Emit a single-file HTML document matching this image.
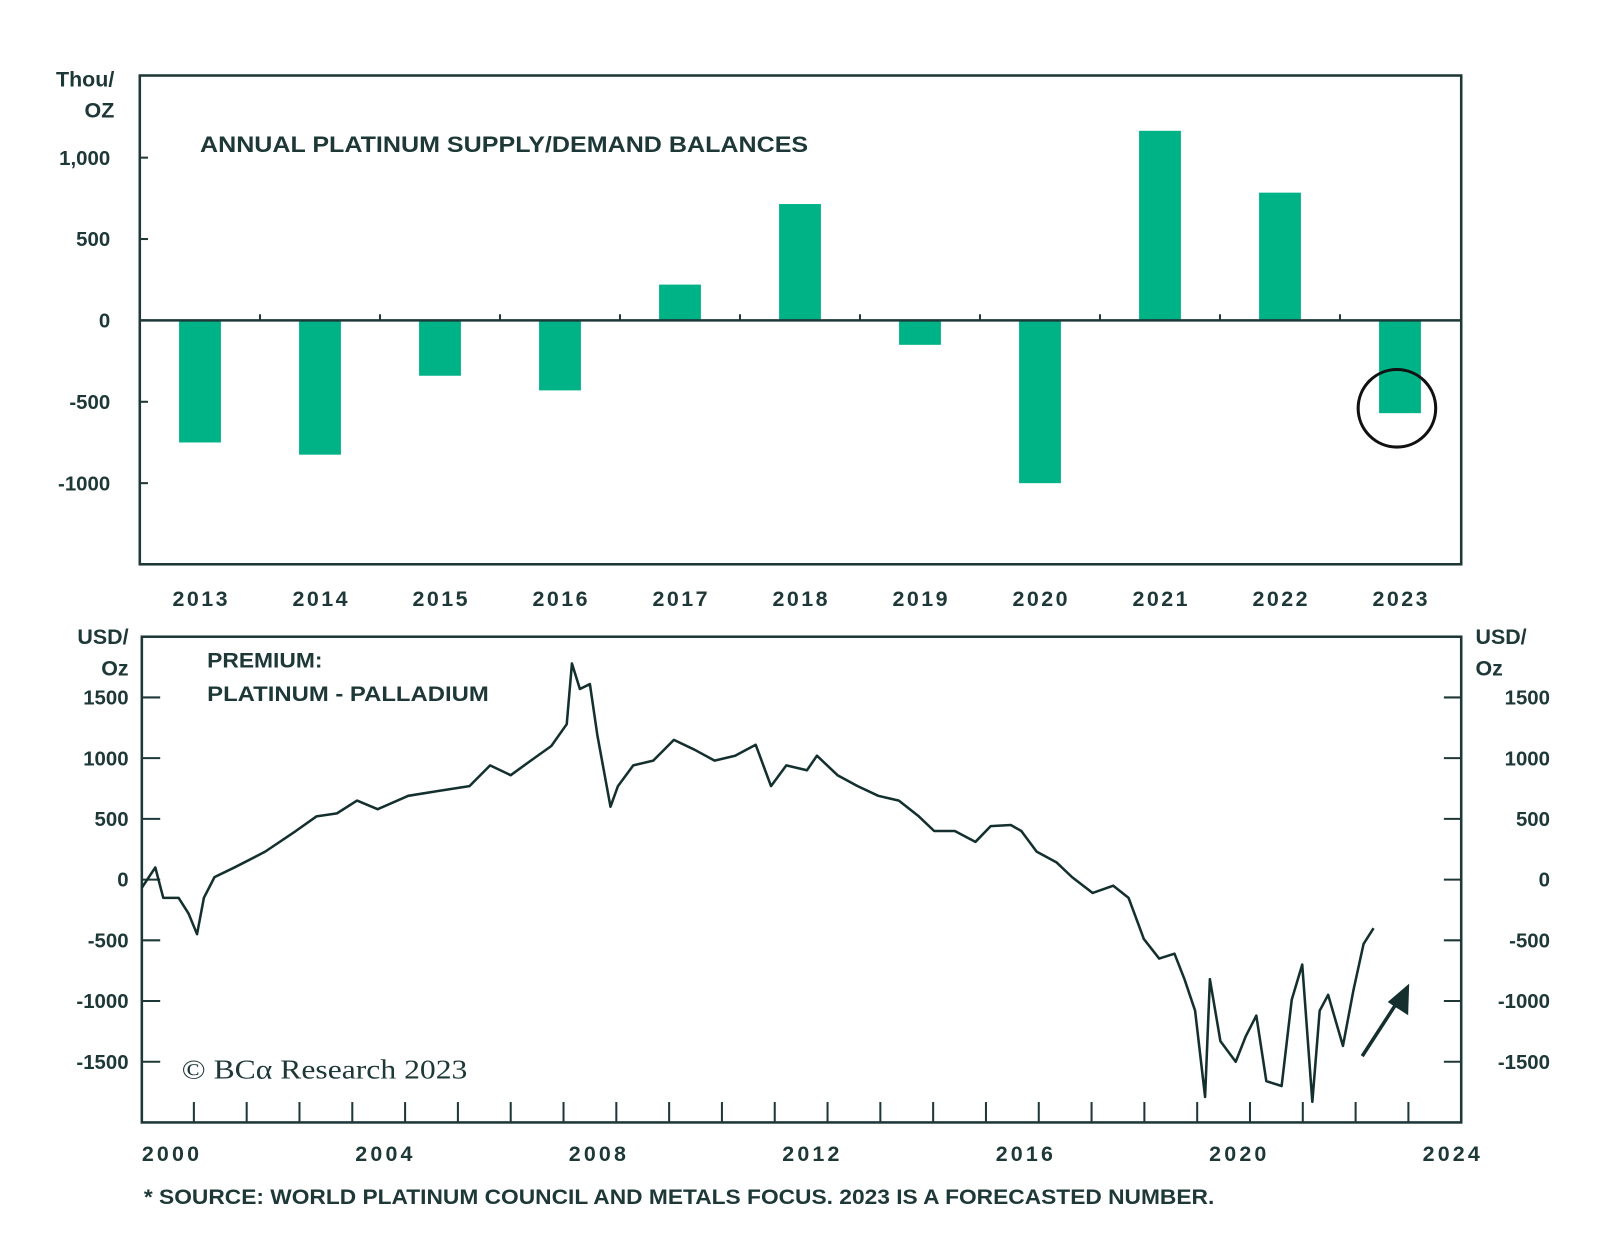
<!DOCTYPE html>
<html><head><meta charset="utf-8"><style>
html,body{margin:0;padding:0;background:#fff;}
svg{display:block;font-family:"Liberation Sans",sans-serif;}
</style></head><body>
<svg id="chart" width="1600" height="1258" viewBox="0 0 1600 1258" xmlns="http://www.w3.org/2000/svg">
<rect x="0" y="0" width="1600" height="1258" fill="#fff"/>
<g transform="scale(1.0204)">
<g id="topPanel"></g>
<g id="botPanel"></g>
</g>
</svg>
<script>
const barYears=["2013","2014","2015","2016","2017","2018","2019","2020","2021","2022","2023"];
const barValues=[-750,-825,-340,-430,220,715,-150,-1000,1165,785,-570];
const topTicks=[1000,500,0,-500,-1000];
const topTickLabels=["1,000","500","0","-500","-1000"];
const lineYears=[1999.01,1999.27,1999.42,1999.71,1999.90,2000.06,2000.19,2000.39,2000.77,2001.35,2001.93,2002.32,2002.71,2003.09,2003.48,2004.06,2004.64,2005.22,2005.61,2006.00,2006.38,2006.77,2007.06,2007.16,2007.31,2007.50,2007.64,2007.78,2007.89,2008.03,2008.32,2008.70,2009.09,2009.48,2009.86,2010.25,2010.64,2010.93,2011.22,2011.61,2011.80,2012.19,2012.57,2012.96,2013.35,2013.73,2014.02,2014.41,2014.80,2015.09,2015.47,2015.67,2015.96,2016.34,2016.63,2017.02,2017.41,2017.70,2017.99,2018.28,2018.57,2018.76,2018.96,2019.15,2019.24,2019.44,2019.73,2019.92,2020.12,2020.31,2020.60,2020.79,2020.99,2021.18,2021.32,2021.48,2021.76,2021.96,2022.15,2022.34];
const lineValues=[-70,100,-150,-150,-280,-450,-150,20,100,230,400,520,545,650,580,690,730,770,940,860,980,1100,1280,1780,1570,1610,1190,860,600,770,940,980,1150,1070,980,1020,1110,770,940,900,1020,860,770,690,650,520,400,400,310,440,450,400,230,140,20,-110,-50,-150,-490,-650,-610,-820,-1080,-1790,-820,-1330,-1500,-1290,-1120,-1660,-1700,-990,-700,-1830,-1080,-950,-1370,-910,-530,-400];
const botTicks=[1500,1000,500,0,-500,-1000,-1500];
const xLabelYears=[2000,2004,2008,2012,2016,2020,2024];

const NS="http://www.w3.org/2000/svg";
const C="#1e3838";
function mk(parent,tag,attrs,text){const e=document.createElementNS(NS,tag);for(const k in attrs)e.setAttribute(k,attrs[k]);if(text!==undefined)e.textContent=text;parent.appendChild(e);return e;}
const topG=document.getElementById('topPanel'), botG=document.getElementById('botPanel');

const tL=137,tR=1432,tT=74,tB=553;
const yTop=v=>314-v*0.1595;
const xBar=i=>196+i*117.6;
let e;
e=mk(topG,'rect',{x:tL,y:tT,width:tR-tL,height:tB-tT,fill:'none',stroke:C,'stroke-width':2.5});


barValues.forEach((v,i)=>{
  const y0=yTop(0),y1=yTop(v);
  const b=mk(topG,'rect',{x:xBar(i)-20.5,y:Math.min(y0,y1),width:41,height:Math.abs(y1-y0),fill:'#00b386'});
  
  
  const t=mk(topG,'text',{x:xBar(i),y:594,'text-anchor':'middle','font-size':21,'font-weight':'bold',fill:C,textLength:54,lengthAdjust:'spacing'},barYears[i]);
  
  
  if(i<barValues.length-1){const tk=mk(topG,'line',{x1:xBar(i)+58.8,x2:xBar(i)+58.8,y1:yTop(0),y2:yTop(0)-6,stroke:C,'stroke-width':2});
  
  }
});
e=mk(topG,'line',{x1:tL,x2:tR,y1:yTop(0),y2:yTop(0),stroke:C,'stroke-width':2.5});


topTicks.forEach((v,i)=>{
  const tk=mk(topG,'line',{x1:tL,x2:tL+8,y1:yTop(v),y2:yTop(v),stroke:C,'stroke-width':2});
  
  
  const t=mk(topG,'text',{x:108,y:yTop(v)+7,'text-anchor':'end','font-size':20,'font-weight':'bold',fill:C},topTickLabels[i]);
  
  
});
e=mk(topG,'text',{x:112,y:85,'text-anchor':'end','font-size':21,'font-weight':'bold',fill:C},'Thou/');


e=mk(topG,'text',{x:112,y:115,'text-anchor':'end','font-size':21,'font-weight':'bold',fill:C},'OZ');


e=mk(topG,'text',{x:196,y:149,'font-size':22,'font-weight':'bold',fill:C,textLength:596,lengthAdjust:'spacingAndGlyphs'},'ANNUAL PLATINUM SUPPLY/DEMAND BALANCES');


e=mk(topG,'circle',{cx:xBar(10)-3,cy:yTop(-540),r:38,fill:'none',stroke:'#111','stroke-width':3});



const bL=139,bR=1432,bT=624,bB=1100;
const xB=yr=>190+(yr-2000)*51.75;
const yB=v=>862-v*0.119;
e=mk(botG,'rect',{x:bL,y:bT,width:bR-bL,height:bB-bT,fill:'none',stroke:C,'stroke-width':2.5});


botTicks.forEach(v=>{
  let tk=mk(botG,'line',{x1:bL,x2:bL+18,y1:yB(v),y2:yB(v),stroke:C,'stroke-width':2});
  
  
  tk=mk(botG,'line',{x1:bR-17,x2:bR,y1:yB(v),y2:yB(v),stroke:C,'stroke-width':2});
  
  
  let t=mk(botG,'text',{x:126,y:yB(v)+7,'text-anchor':'end','font-size':20,'font-weight':'bold',fill:C},String(v));
  
  
  t=mk(botG,'text',{x:1519,y:yB(v)+7,'text-anchor':'end','font-size':20,'font-weight':'bold',fill:C},String(v));
  
  
});
for(let yr=2000;yr<=2023;yr++){
  const tk=mk(botG,'line',{x1:xB(yr),x2:xB(yr),y1:bB,y2:bB-20,stroke:C,'stroke-width':2});
  
  
}
xLabelYears.forEach(yr=>{
  const t=mk(botG,'text',{x:167+(yr-2000)*52.3,y:1138,'text-anchor':'middle','font-size':21,'font-weight':'bold',fill:C,textLength:56,lengthAdjust:'spacing'},String(yr));
  
  
});
let d=lineYears.map((yr,i)=>(i?'L':'M')+xB(yr).toFixed(1)+' '+yB(lineValues[i]).toFixed(1)).join(' ');
e=mk(botG,'path',{d:d,fill:'none',stroke:'#14302e','stroke-width':2.5,'stroke-linejoin':'round'});


[['USD/',126,631,'end'],['Oz',126,662,'end'],['USD/',1446,631,'start'],['Oz',1446,662,'start']].forEach(a=>{
  const t=mk(botG,'text',{x:a[1],y:a[2],'text-anchor':a[3],'font-size':21,'font-weight':'bold',fill:C},a[0]);
  
  
});
e=mk(botG,'text',{x:203,y:654,'font-size':21,'font-weight':'bold',fill:C,textLength:113,lengthAdjust:'spacingAndGlyphs'},'PREMIUM:');


e=mk(botG,'text',{x:203,y:687,'font-size':21,'font-weight':'bold',fill:C,textLength:276,lengthAdjust:'spacingAndGlyphs'},'PLATINUM - PALLADIUM');


e=mk(botG,'text',{x:178,y:1057,'font-size':27,fill:C,'font-family':'Liberation Serif, serif',textLength:280,lengthAdjust:'spacingAndGlyphs'},'© BCα Research 2023');


e=mk(botG,'line',{x1:1335,y1:1035,x2:1372,y2:978,stroke:'#14302e','stroke-width':3.5});


e=mk(botG,'polygon',{points:'1381,964 1380,995 1360,982',fill:'#14302e'});


e=mk(botG,'text',{x:141,y:1180,'font-size':21,'font-weight':'bold',fill:C,textLength:1049,lengthAdjust:'spacingAndGlyphs'},'* SOURCE: WORLD PLATINUM COUNCIL AND METALS FOCUS. 2023 IS A FORECASTED NUMBER.');


</script>
</body></html>
